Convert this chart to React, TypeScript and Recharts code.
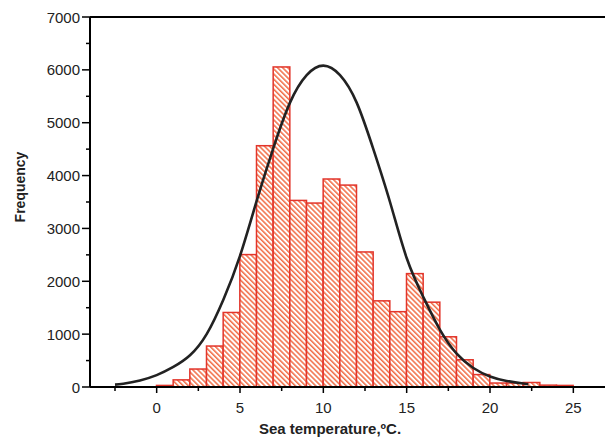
import {
  ComposedChart,
  Bar,
  Line,
  XAxis,
  YAxis,
  ReferenceLine,
} from 'recharts'

// histogram bins (lower edge, °C) and counts
const binStarts = [0, 1, 2, 3, 4, 5, 6, 7, 8, 9, 10, 11, 12, 13, 14, 15, 16, 17, 18, 19, 20, 21, 22, 23, 24]
const binCounts = [30, 135, 340, 775, 1410, 2505, 4565, 6055, 3530, 3480, 3935, 3820, 2555, 1630, 1425, 2145, 1605, 950, 515, 235, 75, 75, 85, 35, 30]

// fitted curve
const curveX = [-2.5, -2, -1, 0, 1, 2, 3, 4, 5, 6, 7, 8, 9, 10, 11, 12, 13, 14, 15, 16, 17, 18, 19, 20, 21, 22, 22.3]
const curveY = [45, 62, 125, 225, 380, 600, 1000, 1650, 2480, 3520, 4520, 5380, 5900, 6080, 5900, 5380, 4500, 3500, 2440, 1700, 1080, 630, 360, 200, 115, 65, 55]

const xTicks = [-2.5, 0, 2.5, 5, 7.5, 10, 12.5, 15, 17.5, 20, 22.5, 25]
const yTicks = [0, 500, 1000, 1500, 2000, 2500, 3000, 3500, 4000, 4500, 5000, 5500, 6000, 6500, 7000]

const bins = binStarts.map((s, i) => ({ x: s + 0.5, count: binCounts[i] }))
const curve = curveX.map((x, i) => ({ x, y: curveY[i] }))

const W = 605
const H = 438
const X_MIN = -4
const X_MAX = 26.9
const PLOT_LEFT = 90
const UNIT = (W - PLOT_LEFT) / (X_MAX - X_MIN)

const FONT = '"Liberation Sans", Arial, sans-serif'

// bar spans a whole 1 °C bin, centred on the point recharts gives us
const HatchBar = (props: any) => {
  const { x, y, width, height } = props
  if (!height || height <= 0) return null
  const cx = x + width / 2
  return (
    <rect
      x={cx - UNIT / 2}
      y={y}
      width={UNIT}
      height={height}
      fill="url(#hatch)"
      stroke="#e2352b"
      strokeWidth={1.5}
    />
  )
}

const XTick = ({ x, y, payload }: any) => {
  const major = payload.value % 5 === 0
  return (
    <g>
      <line x1={x} y1={y} x2={x} y2={y + (major ? 6 : 4)} stroke="#000" strokeWidth={1.5} />
      {major && (
        <text x={x} y={y + 20} textAnchor="middle" dominantBaseline="central" fontSize={15} fill="#222" fontFamily={FONT}>
          {payload.value}
        </text>
      )}
    </g>
  )
}

const YTick = ({ x, y, payload }: any) => {
  const major = payload.value % 1000 === 0
  return (
    <g>
      <line x1={x - (major ? 8 : 4)} y1={y} x2={x} y2={y} stroke="#000" strokeWidth={1.5} />
      {major && (
        <text x={x - 10} y={y} textAnchor="end" dominantBaseline="central" fontSize={15} fill="#222" fontFamily={FONT}>
          {payload.value}
        </text>
      )}
    </g>
  )
}

export default function App() {
  return (
    <div style={{ position: 'absolute', left: 0, top: 0, width: W, height: H, overflow: 'hidden', background: '#fff' }}>
      <ComposedChart
        width={W}
        height={H}
        data={bins}
        margin={{ top: 17, right: 0, bottom: 0, left: 0 }}
        barCategoryGap={0}
        barGap={0}
      >
        <defs>
          <pattern id="hatch" width="3.6" height="3.6" patternUnits="userSpaceOnUse" patternTransform="rotate(-45)">
            <rect width="3.6" height="3.6" fill="#fff" />
            <line x1="0.8" y1="0" x2="0.8" y2="3.6" stroke="#ef5426" strokeWidth="1.3" />
          </pattern>
        </defs>
        <XAxis
          dataKey="x"
          type="number"
          domain={[X_MIN, X_MAX]}
          allowDataOverflow
          ticks={xTicks}
          interval={0}
          height={51}
          tickSize={0}
          tickMargin={0}
          tickLine={false}
          axisLine={{ stroke: '#000', strokeWidth: 2 }}
          tick={<XTick />}
        />
        <YAxis
          type="number"
          domain={[0, 7000]}
          ticks={yTicks}
          interval={0}
          width={PLOT_LEFT}
          tickSize={0}
          tickMargin={0}
          tickLine={false}
          axisLine={{ stroke: '#000', strokeWidth: 2 }}
          tick={<YTick />}
        />
        <ReferenceLine y={7000} stroke="#000" strokeWidth={2} />
        <Bar dataKey="count" shape={<HatchBar />} isAnimationActive={false} />
        <Line
          data={curve}
          dataKey="y"
          type="natural"
          stroke="#222"
          strokeWidth={2.6}
          dot={false}
          activeDot={false}
          isAnimationActive={false}
        />
      </ComposedChart>

      {/* axis titles */}
      <div
        style={{
          position: 'absolute',
          left: 330,
          top: 428,
          transform: 'translate(-50%, -50%)',
          fontFamily: FONT,
          fontWeight: 'bold',
          fontSize: 15,
          color: '#222',
          whiteSpace: 'nowrap',
        }}
      >
        Sea temperature,ºC.
      </div>
      <div
        style={{
          position: 'absolute',
          left: 20,
          top: 187,
          transform: 'translate(-50%, -50%) rotate(-90deg)',
          fontFamily: FONT,
          fontWeight: 'bold',
          fontSize: 14,
          color: '#222',
          whiteSpace: 'nowrap',
        }}
      >
        Frequency
      </div>
    </div>
  )
}
